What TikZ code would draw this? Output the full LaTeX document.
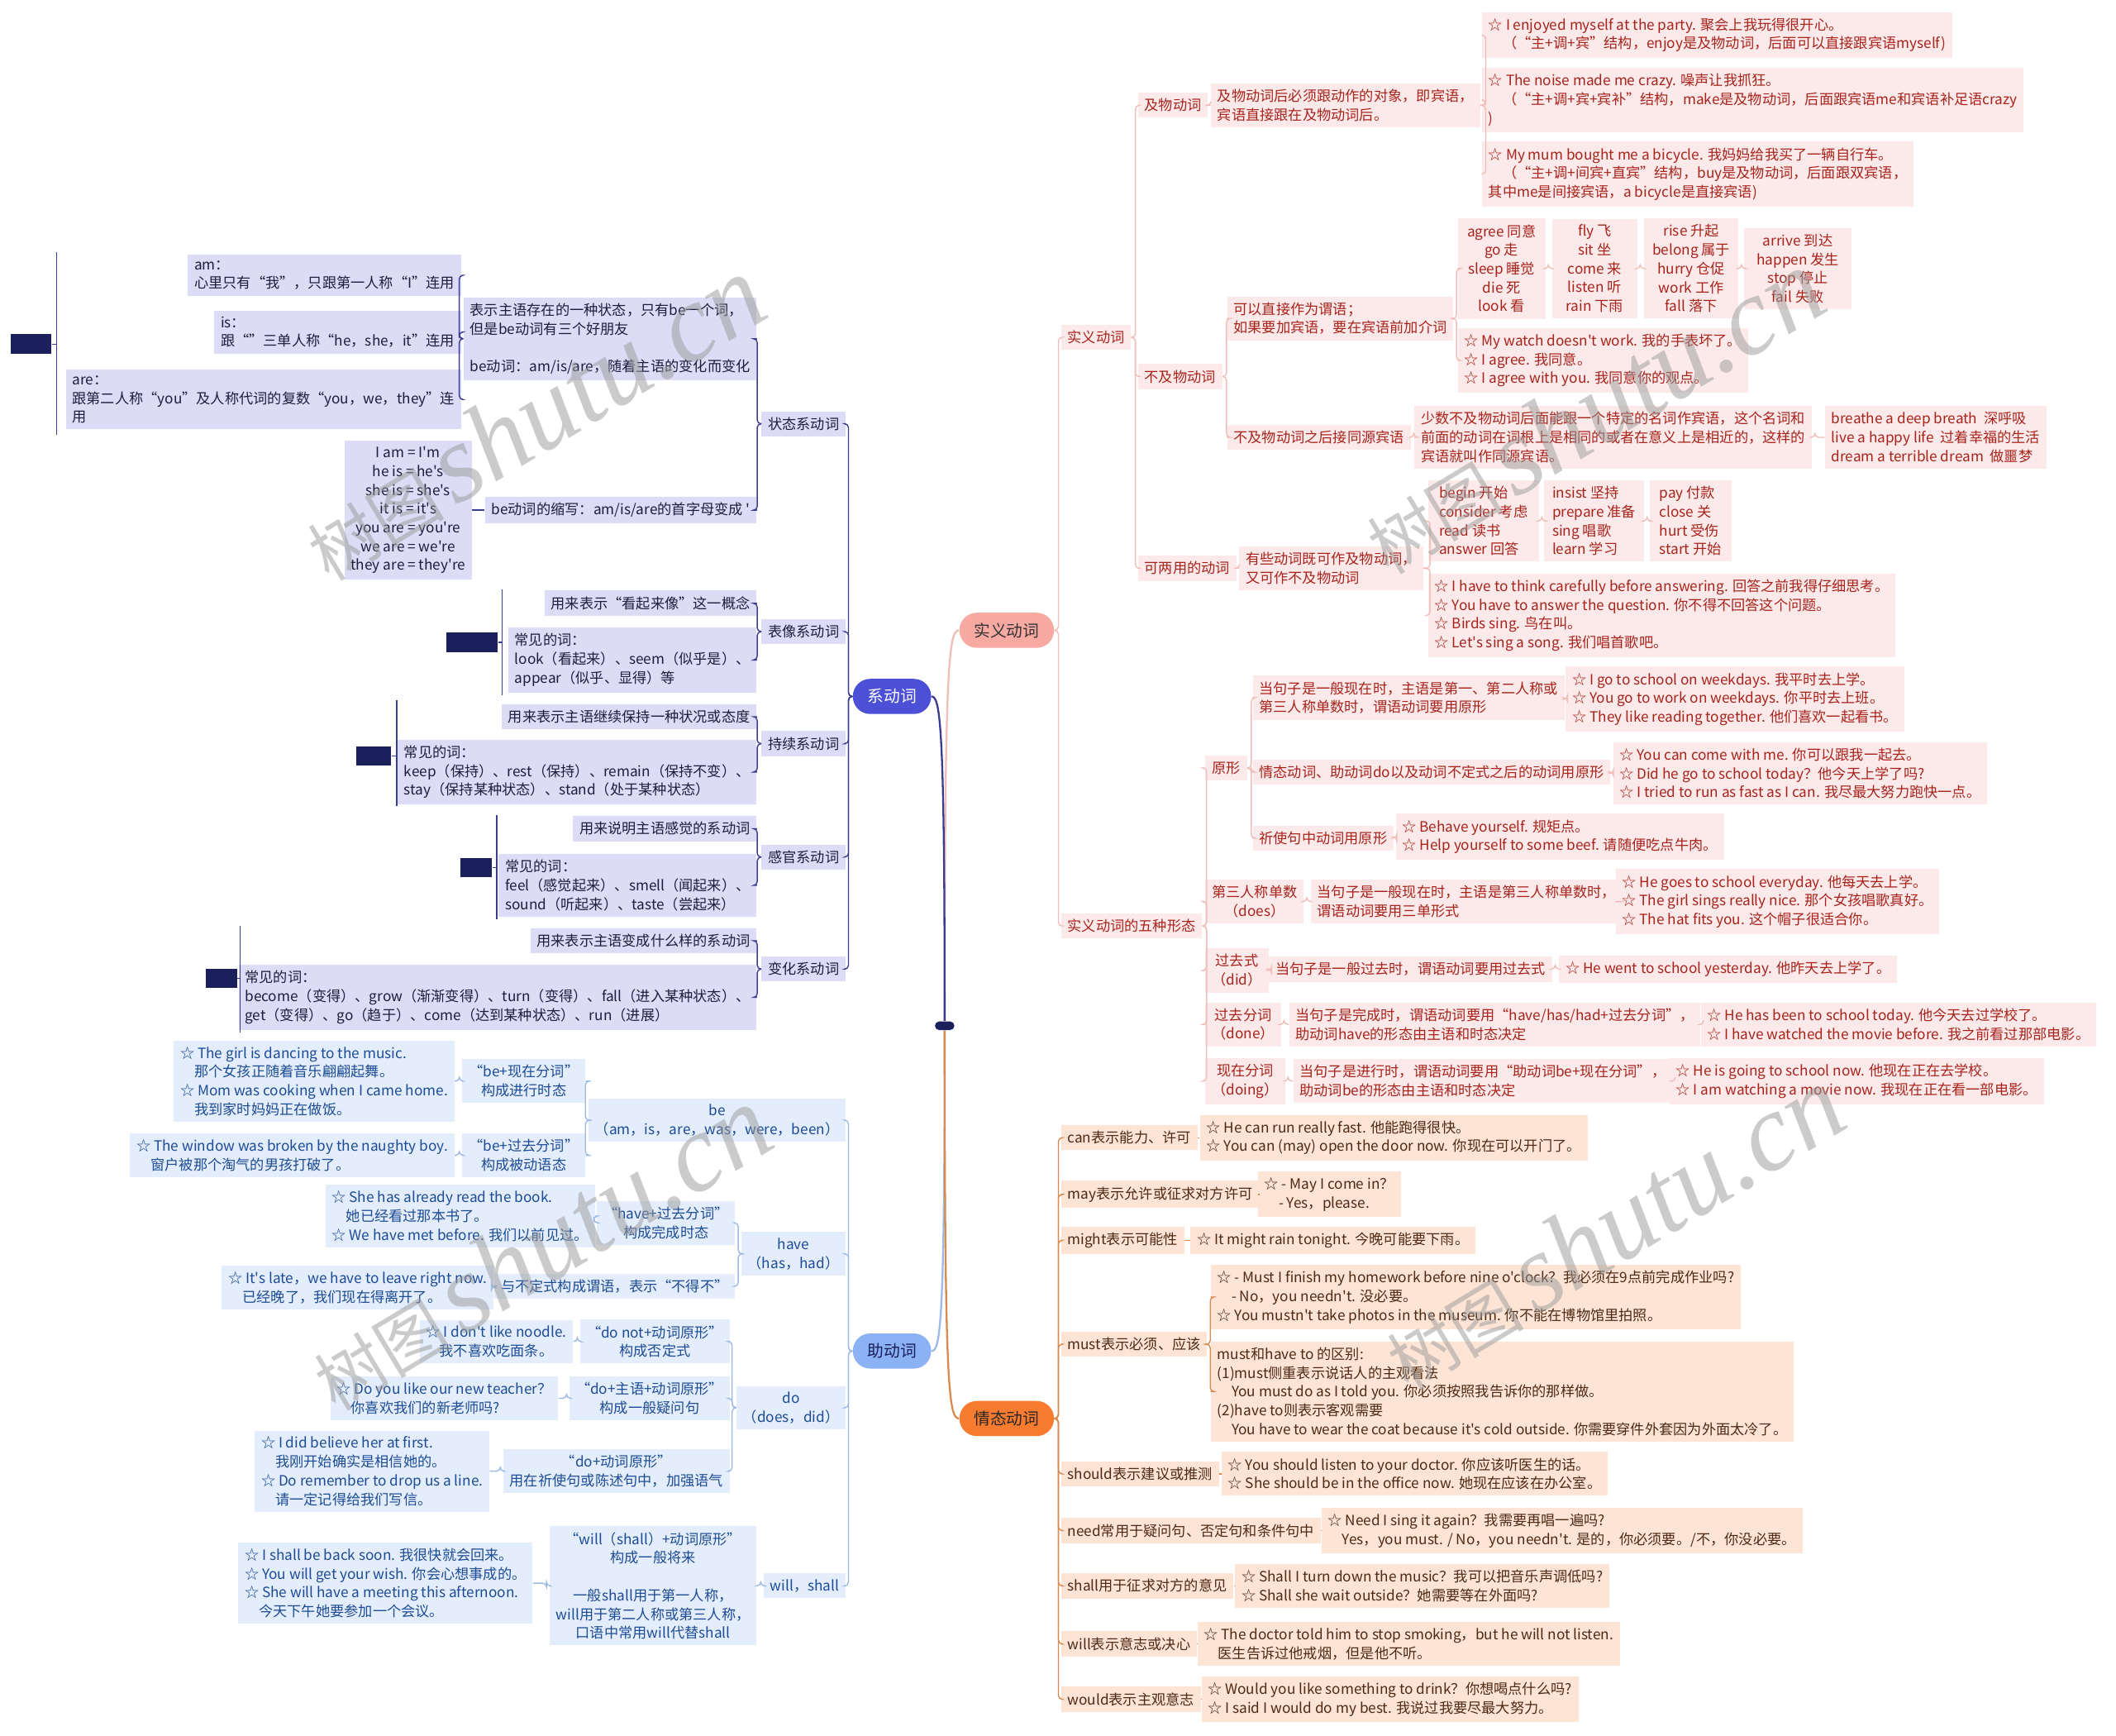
\documentclass[tikz,border=0pt]{standalone}
\usepackage{fontspec}
\setmainfont{Noto Sans CJK SC}[Ligatures=TeXOff]
\newfontfamily\wmfont{Liberation Serif}
\newcommand\boxfont{\fontsize{7.5}{9.9}\selectfont}
\newcommand\pillfont{\fontsize{8.6}{10}\selectfont}
\definecolor{pkfill}{HTML}{FCEAEA}
\definecolor{pktext}{HTML}{A8231C}
\definecolor{pkline}{HTML}{F0BDB8}
\definecolor{pkmain}{HTML}{F8A9A2}
\definecolor{orfill}{HTML}{FDE4D5}
\definecolor{ortext}{HTML}{4E2A14}
\definecolor{orline}{HTML}{D98A50}
\definecolor{ormain}{HTML}{F97B2F}
\definecolor{lvfill}{HTML}{DCDCF6}
\definecolor{lvtext}{HTML}{1E1E3C}
\definecolor{lvline}{HTML}{3A3D8F}
\definecolor{lvmain}{HTML}{4B50D6}
\definecolor{blfill}{HTML}{E4EDFB}
\definecolor{bltext}{HTML}{1D4C96}
\definecolor{blline}{HTML}{9DB9E8}
\definecolor{blmain}{HTML}{8AB2F5}
\definecolor{navy}{HTML}{1B1F5C}
\begin{document}
\begin{tikzpicture}[x=0.25mm, y=0.25mm,
    every node/.style={font=\boxfont, inner xsep=1.2mm, inner ysep=1.1mm, align=left},
    pk/.style={fill=pkfill, text=pktext},
    og/.style={fill=orfill, text=ortext},
    lv/.style={fill=lvfill, text=lvtext},
    bl/.style={fill=blfill, text=bltext},
    pill/.style={rounded corners=3.2mm, minimum height=6.5mm, font=\pillfont, inner xsep=0pt, align=center},
    pkl/.style={draw=pkline, line width=0.6pt, rounded corners=2pt},
    ogl/.style={draw=orline, line width=0.6pt, rounded corners=2pt},
    lvl/.style={draw=lvline, line width=0.6pt, rounded corners=2pt},
    bll/.style={draw=blline, line width=0.6pt, rounded corners=2pt},
    thumb/.style={fill=navy, inner sep=0pt, minimum height=3.7mm},
    wm/.style={font=\fontsize{36}{36}\selectfont, text=black!40, text opacity=0.5, inner sep=0pt}]
  \fill[white] (0,0) rectangle (1568,-1286);
  \useasboundingbox (0,0) rectangle (1568,-1286);

  % centre and main topics
  \node[thumb, minimum width=3.6mm, minimum height=1.6mm, rounded corners=0.8mm] (root) at (700,-760) {};
  \node[pill, fill=pkmain, text=black!80, minimum width=17.5mm] (sy) at (746,-467) {实义动词};
  \node[pill, fill=ormain, text=black!85, minimum width=17.5mm] (qt) at (746,-1051) {情态动词};
  \node[pill, fill=lvmain, text=white, minimum width=14.5mm] (xi) at (661,-516) {系动词};
  \node[pill, fill=blmain, text=navy, minimum width=14.5mm] (zhu) at (661,-1001) {助动词};

  \draw[pkl, line width=1pt] (root.north) .. controls (700,-490) and (703,-467) .. (sy.west);
  \draw[lvl, line width=1pt] (root.north) .. controls (700,-540) and (697,-516) .. (xi.east);
  \draw[bll, line width=1pt] (root.south) .. controls (700,-980) and (697,-1001) .. (zhu.east);
  \draw[ogl, line width=1pt] (root.south) .. controls (700,-1030) and (703,-1051) .. (qt.west);

  % 实义动词
  \node[pk, anchor=west] (sy1) at (786,-250) {实义动词};
  \node[pk, anchor=west] (wx) at (786,-686) {实义动词的五种形态};
  \node[pk, anchor=west] (jw) at (843,-78) {及物动词};
  \node[pk, anchor=west] (jwd) at (897,-78) {及物动词后必须跟动作的对象，即宾语，\\宾语直接跟在及物动词后。};
  \node[pk, anchor=west] (jwa) at (1098,-26) {☆ I enjoyed myself at the party. 聚会上我玩得很开心。\\　（“主+调+宾”结构，enjoy是及物动词，后面可以直接跟宾语myself)};
  \node[pk, anchor=west] (jwb) at (1098,-74) {☆ The noise made me crazy. 噪声让我抓狂。\\　（“主+调+宾+宾补”结构，make是及物动词，后面跟宾语me和宾语补足语crazy\\)};
  \node[pk, anchor=west] (jwc) at (1098,-129) {☆ My mum bought me a bicycle. 我妈妈给我买了一辆自行车。\\　（“主+调+间宾+直宾”结构，buy是及物动词，后面跟双宾语，\\其中me是间接宾语，a bicycle是直接宾语)};
  \node[pk, anchor=west] (bjw) at (843,-279) {不及物动词};
  \node[pk, anchor=west] (bjw1) at (909,-236) {可以直接作为谓语；\\如果要加宾语，要在宾语前加介词};
  \node[pk, anchor=west, align=center, minimum width=16.2mm] (vi1) at (1080,-199) {agree 同意\\go 走\\sleep 睡觉\\die 死\\look 看};
  \node[pk, anchor=west, align=center, minimum width=15.7mm] (vi2) at (1150,-199) {fly 飞\\sit 坐\\come 来\\listen 听\\rain 下雨};
  \node[pk, anchor=west, align=center, minimum width=17.5mm] (vi3) at (1218,-199) {rise 升起\\belong 属于\\hurry 仓促\\work 工作\\fall 落下};
  \node[pk, anchor=west, align=center, minimum width=20mm] (vi4) at (1292,-199) {arrive 到达\\happen 发生\\stop 停止\\fail 失败};
  \node[pk, anchor=west] (bjw1e) at (1080,-267) {☆ My watch doesn't work. 我的手表坏了。\\☆ I agree. 我同意。\\☆ I agree with you. 我同意你的观点。};
  \node[pk, anchor=west] (bjw2) at (909,-324) {不及物动词之后接同源宾语};
  \node[pk, anchor=west] (bjw2a) at (1048,-324) {少数不及物动词后面能跟一个特定的名词作宾语，这个名词和\\前面的动词在词根上是相同的或者在意义上是相近的，这样的\\宾语就叫作同源宾语。};
  \node[pk, anchor=west] (bjw2b) at (1352,-324) {breathe a deep breath\ \ 深呼吸\\live a happy life\ \ 过着幸福的生活\\dream a terrible dream\ \ 做噩梦};
  \node[pk, anchor=west] (lyy) at (843,-421) {可两用的动词};
  \node[pk, anchor=west] (lyy1) at (918,-421) {有些动词既可作及物动词，\\又可作不及物动词};
  \node[pk, anchor=west, minimum width=20.5mm] (lya) at (1058,-386) {begin 开始\\consider 考虑\\read 读书\\answer 回答};
  \node[pk, anchor=west, minimum width=18.5mm] (lyb) at (1144,-386) {insist 坚持\\prepare 准备\\sing 唱歌\\learn 学习};
  \node[pk, anchor=west, minimum width=15.2mm] (lyc) at (1222,-386) {pay 付款\\close 关\\hurt 受伤\\start 开始};
  \node[pk, anchor=west] (lyex) at (1058,-456) {☆ I have to think carefully before answering. 回答之前我得仔细思考。\\☆ You have to answer the question. 你不得不回答这个问题。\\☆ Birds sing. 鸟在叫。\\☆ Let's sing a song. 我们唱首歌吧。};

  % 五种形态
  \node[pk, anchor=west] (yx) at (893,-569) {原形};
  \node[pk, anchor=west] (yx1) at (928,-517) {当句子是一般现在时，主语是第一、第二人称或\\第三人称单数时，谓语动词要用原形};
  \node[pk, anchor=west] (yx1e) at (1160,-518) {☆ I go to school on weekdays. 我平时去上学。\\☆ You go to work on weekdays. 你平时去上班。\\☆ They like reading together. 他们喜欢一起看书。};
  \node[pk, anchor=west] (yx2) at (928,-572) {情态动词、助动词do以及动词不定式之后的动词用原形};
  \node[pk, anchor=west] (yx2e) at (1195,-573) {☆ You can come with me. 你可以跟我一起去。\\☆ Did he go to school today？他今天上学了吗?\\☆ I tried to run as fast as I can. 我尽最大努力跑快一点。};
  \node[pk, anchor=west] (yx3) at (928,-621) {祈使句中动词用原形};
  \node[pk, anchor=west] (yx3e) at (1034,-620) {☆ Behave yourself. 规矩点。\\☆ Help yourself to some beef. 请随便吃点牛肉。};
  \node[pk, anchor=west, align=center] (dsr) at (893,-668) {第三人称单数\\（does）};
  \node[pk, anchor=west] (dsr1) at (971,-668) {当句子是一般现在时，主语是第三人称单数时，\\谓语动词要用三单形式};
  \node[pk, anchor=west] (dsre) at (1197,-668) {☆ He goes to school everyday. 他每天去上学。\\☆ The girl sings really nice. 那个女孩唱歌真好。\\☆ The hat fits you. 这个帽子很适合你。};
  \node[pk, anchor=west, align=center] (gqs) at (893,-719) {过去式\\（did）};
  \node[pk, anchor=west] (gqs1) at (940,-718) {当句子是一般过去时，谓语动词要用过去式};
  \node[pk, anchor=west] (gqse) at (1155,-718) {☆ He went to school yesterday. 他昨天去上学了。};
  \node[pk, anchor=west, align=center] (gqf) at (893,-759) {过去分词\\（done）};
  \node[pk, anchor=west] (gqf1) at (955,-759) {当句子是完成时，谓语动词要用“have/has/had+过去分词”，\\助动词have的形态由主语和时态决定};
  \node[pk, anchor=west] (gqfe) at (1260,-759) {☆ He has been to school today. 他今天去过学校了。\\☆ I have watched the movie before. 我之前看过那部电影。};
  \node[pk, anchor=west, align=center] (xzf) at (893,-801) {现在分词\\（doing）};
  \node[pk, anchor=west] (xzf1) at (958,-801) {当句子是进行时，谓语动词要用“助动词be+现在分词”，\\助动词be的形态由主语和时态决定};
  \node[pk, anchor=west] (xzfe) at (1237,-801) {☆ He is going to school now. 他现在正在去学校。\\☆ I am watching a movie now. 我现在正在看一部电影。};

  \foreach \c in {sy1,wx} \draw[pkl] (sy.east) -- ++(3,0) |- (\c.west);
  \foreach \c in {jw,bjw,lyy} \draw[pkl] (sy1.east) -- ++(3,0) |- (\c.west);
  \foreach \c in {jwa,jwb,jwc} \draw[pkl] (jwd.east) -- ++(4,0) |- (\c.west);
  \foreach \c in {bjw1,bjw2} \draw[pkl] (bjw.east) -- ++(3,0) |- (\c.west);
  \foreach \c in {vi1,bjw1e} \draw[pkl] (bjw1.east) -- ++(2,0) |- (\c.west);
  \foreach \c in {lya,lyex} \draw[pkl] (lyy1.east) -- ++(5,0) |- (\c.west);
  \foreach \c in {yx,dsr,gqs,gqf,xzf} \draw[pkl] (wx.east) -- ++(3,0) |- (\c.west);
  \foreach \c in {yx1,yx2,yx3} \draw[pkl] (yx.east) -- ++(3,0) |- (\c.west);
  \foreach \a/\b in {jw/jwd,vi1/vi2,vi2/vi3,vi3/vi4,bjw2/bjw2a,bjw2a/bjw2b,lyy/lyy1,lya/lyb,lyb/lyc,
      yx1/yx1e,yx2/yx2e,yx3/yx3e,dsr/dsr1,dsr1/dsre,gqs/gqs1,gqs1/gqse,gqf/gqf1,gqf1/gqfe,xzf/xzf1,xzf1/xzfe}
    \draw[pkl] (\a.east) -- ++(2,0) |- (\b.west);

  % 情态动词
  \node[og, anchor=west] (can) at (786,-843) {can表示能力、许可};
  \node[og, anchor=west] (cane) at (889,-843) {☆ He can run really fast. 他能跑得很快。\\☆ You can (may) open the door now. 你现在可以开门了。};
  \node[og, anchor=west] (may) at (786,-885) {may表示允许或征求对方许可};
  \node[og, anchor=west] (maye) at (932,-885) {☆ - May I come in？\\　- Yes，please.};
  \node[og, anchor=west] (might) at (786,-919) {might表示可能性};
  \node[og, anchor=west] (mighte) at (882,-919) {☆ It might rain tonight. 今晚可能要下雨。};
  \node[og, anchor=west] (must) at (786,-996) {must表示必须、应该};
  \node[og, anchor=west] (muste1) at (897,-961) {☆ - Must I finish my homework before nine o'clock？我必须在9点前完成作业吗?\\　- No，you needn't. 没必要。\\☆ You mustn't take photos in the museum. 你不能在博物馆里拍照。};
  \node[og, anchor=west] (muste2) at (897,-1031) {must和have to 的区别:\\(1)must侧重表示说话人的主观看法\\　You must do as I told you. 你必须按照我告诉你的那样做。\\(2)have to则表示客观需要\\　You have to wear the coat because it's cold outside. 你需要穿件外套因为外面太冷了。};
  \node[og, anchor=west] (should) at (786,-1092) {should表示建议或推测};
  \node[og, anchor=west] (shoulde) at (905,-1092) {☆ You should listen to your doctor. 你应该听医生的话。\\☆ She should be in the office now. 她现在应该在办公室。};
  \node[og, anchor=west] (need) at (786,-1134) {need常用于疑问句、否定句和条件句中};
  \node[og, anchor=west] (neede) at (979,-1134) {☆ Need I sing it again？我需要再唱一遍吗?\\　Yes，you must. / No，you needn't. 是的，你必须要。/不，你没必要。};
  \node[og, anchor=west] (shall) at (786,-1175) {shall用于征求对方的意见};
  \node[og, anchor=west] (shalle) at (915,-1175) {☆ Shall I turn down the music？我可以把音乐声调低吗?\\☆ Shall she wait outside？她需要等在外面吗?};
  \node[og, anchor=west] (will) at (786,-1218) {will表示意志或决心};
  \node[og, anchor=west] (wille) at (887,-1218) {☆ The doctor told him to stop smoking，but he will not listen.\\　医生告诉过他戒烟，但是他不听。};
  \node[og, anchor=west] (would) at (786,-1259) {would表示主观意志};
  \node[og, anchor=west] (woulde) at (890,-1259) {☆ Would you like something to drink？你想喝点什么吗?\\☆ I said I would do my best. 我说过我要尽最大努力。};

  \foreach \c in {can,may,might,must,should,need,shall,will,would} \draw[ogl] (qt.east) -- ++(3,0) |- (\c.west);
  \foreach \c in {muste1,muste2} \draw[ogl] (must.east) -- ++(2,0) |- (\c.west);
  \foreach \a/\b in {can/cane,may/maye,might/mighte,should/shoulde,need/neede,shall/shalle,will/wille,would/woulde}
    \draw[ogl] (\a.east) -- (\b.west);

  % 系动词
  \node[lv, anchor=east] (ztx) at (627,-314) {状态系动词};
  \node[lv, anchor=east] (zt1) at (561,-251) {表示主语存在的一种状态，只有be一个词，\\但是be动词有三个好朋友\\[9.9pt]be动词：am/is/are，随着主语的变化而变化};
  \node[lv, anchor=east] (zam) at (342,-204) {am：\\心里只有“我”，只跟第一人称“I”连用};
  \node[lv, anchor=east] (zis) at (342,-246) {is：\\跟“”三单人称“he，she，it”连用};
  \node[lv, anchor=east] (zare) at (342,-296) {are：\\跟第二人称“you”及人称代词的复数“you，we，they”连\\用};
  \node[lv, anchor=east] (zt2) at (561,-378) {be动词的缩写：am/is/are的首字母变成 '};
  \node[lv, anchor=east, align=center] (con) at (350,-378) {I am = I'm\\he is = he's\\she is = she's\\it is = it's\\you are = you're\\we are = we're\\they are = they're};
  \node[lv, anchor=east] (bxx) at (627,-468) {表像系动词};
  \node[lv, anchor=east] (bx1) at (561,-447) {用来表示“看起来像”这一概念};
  \node[lv, anchor=east] (bx2) at (561,-489) {常见的词：\\look（看起来）、seem（似乎是）、\\appear（似乎、显得）等};
  \node[lv, anchor=east] (cxx) at (627,-551) {持续系动词};
  \node[lv, anchor=east] (cx1) at (561,-531) {用来表示主语继续保持一种状况或态度};
  \node[lv, anchor=east] (cx2) at (561,-572) {常见的词：\\keep（保持）、rest（保持）、remain（保持不变）、\\stay（保持某种状态）、stand（处于某种状态）};
  \node[lv, anchor=east] (ggx) at (627,-635) {感官系动词};
  \node[lv, anchor=east] (gg1) at (561,-614) {用来说明主语感觉的系动词};
  \node[lv, anchor=east] (gg2) at (561,-656) {常见的词：\\feel（感觉起来）、smell（闻起来）、\\sound（听起来）、taste（尝起来）};
  \node[lv, anchor=east] (bhx) at (627,-718) {变化系动词};
  \node[lv, anchor=east] (bh1) at (561,-697) {用来表示主语变成什么样的系动词};
  \node[lv, anchor=east] (bh2) at (561,-739) {常见的词：\\become（变得）、grow（渐渐变得）、turn（变得）、fall（进入某种状态）、\\get（变得）、go（趋于）、come（达到某种状态）、run（进展）};
  % thumbnails beside the groups
  \node[thumb, minimum width=7.5mm] (dk1) at (23,-255) {};
  \node[thumb, minimum width=9.5mm] (dk2) at (350,-476) {};
  \node[thumb, minimum width=6.5mm, minimum height=3.5mm] (dk3) at (277,-560) {};
  \node[thumb, minimum width=5.8mm, minimum height=3.5mm] (dk4) at (353,-643) {};
  \node[thumb, minimum width=5.8mm, minimum height=3.5mm] (dk5) at (164,-725) {};
  \coordinate (b1a) at (42,-187);  \coordinate (b1b) at (42,-322);
  \coordinate (b2a) at (372,-437); \coordinate (b2b) at (372,-515);
  \coordinate (b3a) at (294,-519); \coordinate (b3b) at (294,-597);
  \coordinate (b4a) at (368,-604); \coordinate (b4b) at (368,-681);
  \coordinate (b5a) at (178,-686); \coordinate (b5b) at (178,-765);

  \foreach \c in {ztx,bxx,cxx,ggx,bhx} \draw[lvl] (xi.west) -- ++(-3,0) |- (\c.east);
  \foreach \c in {zt1,zt2} \draw[lvl] (ztx.west) -- ++(-3,0) |- (\c.east);
  \foreach \c in {zam,zis,zare} \draw[lvl] (zt1.west) -- ++(-3,0) |- (\c.east);
  \foreach \c in {bx1,bx2} \draw[lvl] (bxx.west) -- ++(-3,0) |- (\c.east);
  \foreach \c in {cx1,cx2} \draw[lvl] (cxx.west) -- ++(-3,0) |- (\c.east);
  \foreach \c in {gg1,gg2} \draw[lvl] (ggx.west) -- ++(-3,0) |- (\c.east);
  \foreach \c in {bh1,bh2} \draw[lvl] (bhx.west) -- ++(-3,0) |- (\c.east);
  \draw[lvl] (zt2.west) -- (con.east);
  \foreach \i in {1,...,5} {
    \draw[lvl] (b\i a) -- (b\i b);
    \draw[lvl] (dk\i.east) -- (dk\i.east -| b\i a);
  }

  % 助动词
  \node[bl, anchor=east, align=center] (zbe) at (627,-830) {be\\（am，is，are，was，were，been）};
  \node[bl, anchor=east, align=center] (be1) at (434,-801) {“be+现在分词”\\构成进行时态};
  \node[bl, anchor=east] (be1e) at (337,-801) {☆ The girl is dancing to the music.\\　那个女孩正随着音乐翩翩起舞。\\☆ Mom was cooking when I came home.\\　我到家时妈妈正在做饭。};
  \node[bl, anchor=east, align=center] (be2) at (434,-856) {“be+过去分词”\\构成被动语态};
  \node[bl, anchor=east] (be2e) at (337,-856) {☆ The window was broken by the naughty boy.\\　窗户被那个淘气的男孩打破了。};
  \node[bl, anchor=east, align=center] (zhave) at (627,-929) {have\\（has，had）};
  \node[bl, anchor=east, align=center] (h1) at (545,-906) {“have+过去分词”\\构成完成时态};
  \node[bl, anchor=east] (h1e) at (441,-901) {☆ She has already read the book.\\　她已经看过那本书了。\\☆ We have met before. 我们以前见过。};
  \node[bl, anchor=east] (h2) at (545,-953) {与不定式构成谓语，表示“不得不”};
  \node[bl, anchor=east] (h2e) at (366,-954) {☆ It's late，we have to leave right now.\\　已经晚了，我们现在得离开了。};
  \node[bl, anchor=east, align=center] (zdo) at (627,-1043) {do\\（does，did）};
  \node[bl, anchor=east, align=center] (d1) at (541,-994) {“do not+动词原形”\\构成否定式};
  \node[bl, anchor=east, align=center] (d1e) at (425,-994) {☆ I don't like noodle.\\我不喜欢吃面条。};
  \node[bl, anchor=east, align=center] (d2) at (541,-1036) {“do+主语+动词原形”\\构成一般疑问句};
  \node[bl, anchor=east] (d2e) at (414,-1036) {☆ Do you like our new teacher？\\　你喜欢我们的新老师吗?};
  \node[bl, anchor=east, align=center] (d3) at (541,-1090) {“do+动词原形”\\用在祈使句或陈述句中，加强语气};
  \node[bl, anchor=east] (d3e) at (363,-1090) {☆ I did believe her at first.\\　我刚开始确实是相信她的。\\☆ Do remember to drop us a line.\\　请一定记得给我们写信。};
  \node[bl, anchor=east] (zws) at (627,-1175) {will，shall};
  \node[bl, anchor=east, align=center] (w1) at (561,-1175) {“will（shall）+动词原形”\\构成一般将来\\[9.9pt]一般shall用于第一人称，\\will用于第二人称或第三人称，\\口语中常用will代替shall};
  \node[bl, anchor=east] (w1e) at (395,-1173) {☆ I shall be back soon. 我很快就会回来。\\☆ You will get your wish. 你会心想事成的。\\☆ She will have a meeting this afternoon.\\　今天下午她要参加一个会议。};

  \foreach \c in {zbe,zhave,zdo,zws} \draw[bll] (zhu.west) -- ++(-3,0) |- (\c.east);
  \foreach \c in {be1,be2} \draw[bll] (zbe.west) -- ++(-2,0) |- (\c.east);
  \foreach \c in {h1,h2} \draw[bll] (zhave.west) -- ++(-2,0) |- (\c.east);
  \foreach \c in {d1,d2,d3} \draw[bll] (zdo.west) -- ++(-3,0) |- (\c.east);
  \foreach \a/\b in {be1/be1e,be2/be2e,h1/h1e,h2/h2e,d1/d1e,d2/d2e,d3/d3e,zws/w1,w1/w1e}
    \draw[bll] (\a.west) -- ++(-2,0) |- (\b.east);

  % watermark
  \foreach \p [count=\i] in {(395,-310),(1180,-305),(400,-925),(1195,-910)}
    \node[wm, rotate=31] (wm\i) at \p {树图\,{\wmfont\fontsize{58}{58}\selectfont\itshape shutu.cn}};
\end{tikzpicture}
\end{document}
